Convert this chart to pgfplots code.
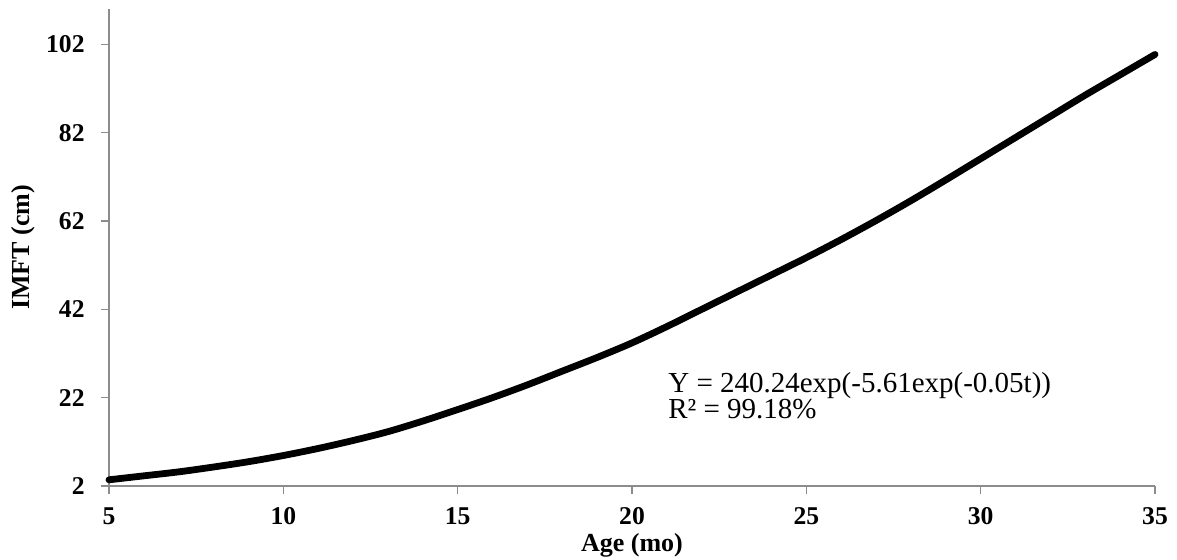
\documentclass[border=0pt]{standalone}
\usepackage{pgfplots}
\pgfplotsset{compat=1.18}
\usepackage{fontspec}
\setmainfont{Liberation Serif}
\definecolor{axgray}{HTML}{8C8C8C}
\begin{document}
\begin{tikzpicture}
\begin{axis}[
  at={(0,0)}, anchor=south west,
  scale only axis,
  width=523pt, height=238.5pt,
  xmin=5, xmax=35, ymin=2, ymax=110,
  axis x line=bottom, axis y line=left,
  axis line style={axgray, line width=0.8pt, -},
  xtick={5,10,15,20,25,30,35},
  ytick={2,22,42,62,82,102},
  tick align=outside,
  major tick length=4pt,
  tick style={axgray, line width=0.8pt},
  /pgf/number format/assume math mode=true,
  ticklabel style={font=\fontsize{12.8}{15}\selectfont\bfseries},
  xticklabel style={anchor=center, inner sep=0pt, yshift=-11pt},
  yticklabel style={anchor=east, inner sep=0pt, xshift=-8pt},
  xlabel={Age (mo)},
  ylabel={IMFT (cm)},
  label style={font=\fontsize{13}{15}\selectfont\bfseries},
  xlabel style={at={([yshift=-29.5pt]axis description cs:0.5,0)}, anchor=center},
  ylabel style={at={([xshift=-43pt]axis description cs:0,0.5)}, anchor=center, rotate=0},
  clip=false,
]
\addplot[black, line width=3.4pt, line cap=round, line join=round, smooth] coordinates {
(5,3.4) (6,4.3) (7,5.2) (8,6.3) (9,7.5) (10,8.9) (11,10.5) (12,12.3) (13,14.3)
(14,16.7) (15,19.3) (16,22.0) (17,24.9) (18,28.0) (19,31.1) (20,34.4)
(21,38.1) (22,42.0) (23,45.9) (24,49.8) (25,53.7) (26,57.8) (27,62.1)
(28,66.6) (29,71.3) (30,76.1) (31,80.9) (32,85.7) (33,90.5) (34,95.1) (35,99.7)
};
\node[anchor=west, align=left, inner sep=0pt, font=\fontsize{14.5}{13}\selectfont]
  at (axis cs:21.03,22.5) {Y = 240.24exp(-5.61exp(-0.05t))\\R² = 99.18\%};
\end{axis}
\pgfresetboundingbox
\path[use as bounding box] (-54.5pt,-37pt) rectangle (534pt,243pt);
\end{tikzpicture}
\end{document}
